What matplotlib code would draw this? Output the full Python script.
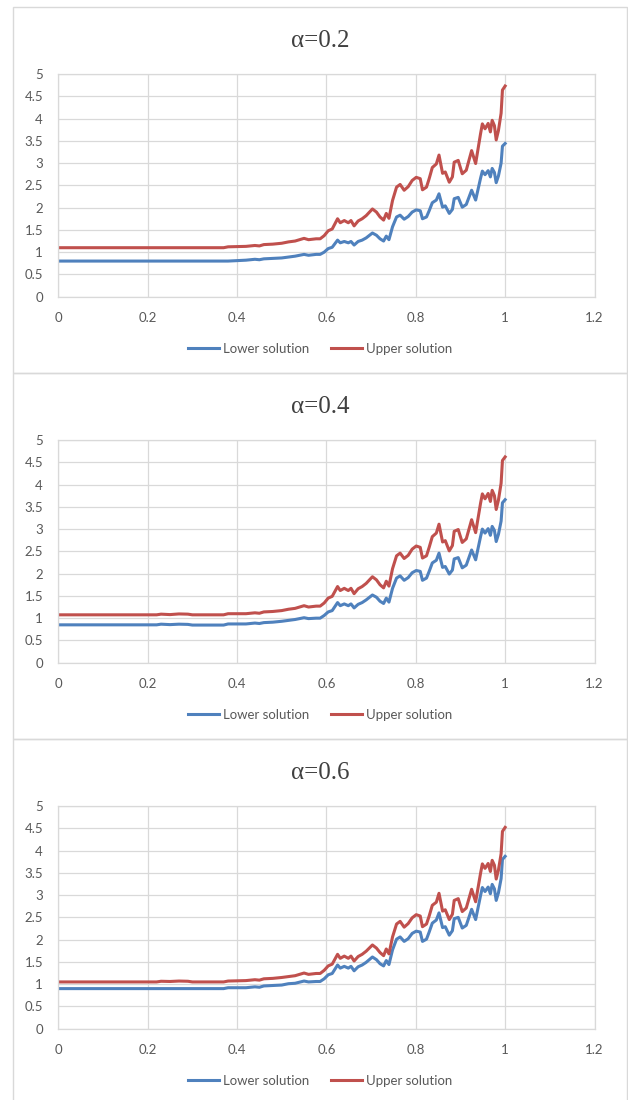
import matplotlib
matplotlib.use('Agg')
import matplotlib.pyplot as plt
from matplotlib.patches import Rectangle

# time grid (shared by all three panels)
t = [0, 0.22, 0.23, 0.25, 0.27, 0.29, 0.30, 0.37, 0.38, 0.42, 0.44, 0.45, 0.46, 0.48, 0.50,
     0.515, 0.53, 0.55, 0.56, 0.577, 0.586, 0.595, 0.604, 0.613, 0.625, 0.631, 0.64, 0.649,
     0.655, 0.662, 0.671, 0.68, 0.689, 0.703, 0.712, 0.72, 0.728, 0.734, 0.74, 0.748, 0.757,
     0.765, 0.774, 0.783, 0.792, 0.801, 0.81, 0.815, 0.824, 0.83, 0.837, 0.846, 0.852, 0.86,
     0.866, 0.875, 0.882, 0.886, 0.895, 0.904, 0.913, 0.925, 0.934, 0.945, 0.949, 0.955,
     0.962, 0.967, 0.971, 0.976, 0.98, 0.985, 0.991, 0.994, 1.0]

# alpha = 0.2
lower_02 = [0.80, 0.80, 0.80, 0.80, 0.80, 0.80, 0.80, 0.80, 0.80, 0.82, 0.84, 0.83, 0.85, 0.86, 0.87,
            0.89, 0.91, 0.95, 0.93, 0.95, 0.95, 1.00, 1.08, 1.11, 1.27, 1.21, 1.24, 1.21, 1.24, 1.16,
            1.24, 1.27, 1.32, 1.43, 1.38, 1.30, 1.25, 1.36, 1.28, 1.57, 1.79, 1.83, 1.74, 1.80, 1.90,
            1.95, 1.93, 1.75, 1.79, 1.93, 2.11, 2.17, 2.31, 2.01, 2.04, 1.87, 1.96, 2.20, 2.23, 2.01,
            2.07, 2.39, 2.17, 2.66, 2.82, 2.74, 2.83, 2.69, 2.88, 2.79, 2.56, 2.71, 3.00, 3.38, 3.44]
upper_02 = [1.10, 1.10, 1.10, 1.10, 1.10, 1.10, 1.10, 1.10, 1.12, 1.13, 1.15, 1.14, 1.17, 1.18, 1.20,
            1.23, 1.25, 1.31, 1.28, 1.30, 1.30, 1.37, 1.48, 1.52, 1.75, 1.66, 1.71, 1.66, 1.71, 1.59,
            1.70, 1.75, 1.82, 1.97, 1.90, 1.79, 1.72, 1.87, 1.76, 2.16, 2.46, 2.52, 2.39, 2.47, 2.61,
            2.68, 2.65, 2.40, 2.46, 2.65, 2.90, 2.98, 3.18, 2.77, 2.80, 2.57, 2.69, 3.02, 3.06, 2.76,
            2.84, 3.28, 2.99, 3.66, 3.88, 3.77, 3.89, 3.70, 3.96, 3.84, 3.52, 3.73, 4.12, 4.64, 4.73]

# alpha = 0.4
lower_04 = [0.85, 0.85, 0.865, 0.855, 0.865, 0.86, 0.845, 0.845, 0.87, 0.87, 0.89, 0.88, 0.90, 0.91, 0.93,
            0.95, 0.97, 1.01, 0.99, 1.00, 1.00, 1.06, 1.14, 1.17, 1.35, 1.28, 1.32, 1.28, 1.32, 1.23,
            1.31, 1.35, 1.41, 1.52, 1.47, 1.38, 1.33, 1.45, 1.36, 1.67, 1.90, 1.95, 1.85, 1.91, 2.02,
            2.07, 2.05, 1.85, 1.90, 2.05, 2.24, 2.30, 2.46, 2.14, 2.16, 1.99, 2.08, 2.33, 2.36, 2.13,
            2.19, 2.53, 2.31, 2.83, 3.00, 2.91, 3.01, 2.86, 3.06, 2.97, 2.72, 2.88, 3.18, 3.59, 3.66]
upper_04 = [1.075, 1.075, 1.09, 1.08, 1.095, 1.09, 1.075, 1.075, 1.10, 1.10, 1.12, 1.11, 1.14, 1.15, 1.17,
            1.20, 1.22, 1.28, 1.25, 1.27, 1.27, 1.34, 1.45, 1.49, 1.71, 1.62, 1.67, 1.62, 1.67, 1.55,
            1.66, 1.71, 1.78, 1.93, 1.86, 1.75, 1.68, 1.83, 1.72, 2.11, 2.40, 2.46, 2.34, 2.41, 2.55,
            2.62, 2.59, 2.35, 2.40, 2.59, 2.83, 2.91, 3.11, 2.71, 2.74, 2.51, 2.63, 2.95, 2.99, 2.70,
            2.78, 3.21, 2.92, 3.58, 3.79, 3.68, 3.80, 3.62, 3.87, 3.75, 3.44, 3.65, 4.03, 4.54, 4.62]

# alpha = 0.6
lower_06 = [0.90, 0.90, 0.90, 0.90, 0.90, 0.90, 0.90, 0.90, 0.92, 0.92, 0.94, 0.93, 0.96, 0.97, 0.98,
            1.01, 1.02, 1.07, 1.05, 1.06, 1.06, 1.12, 1.21, 1.24, 1.43, 1.36, 1.40, 1.36, 1.40, 1.30,
            1.39, 1.43, 1.49, 1.61, 1.55, 1.46, 1.41, 1.53, 1.44, 1.77, 2.01, 2.06, 1.96, 2.02, 2.14,
            2.19, 2.17, 1.96, 2.01, 2.17, 2.37, 2.44, 2.60, 2.27, 2.29, 2.10, 2.20, 2.47, 2.50, 2.26,
            2.32, 2.68, 2.45, 2.99, 3.17, 3.08, 3.18, 3.03, 3.24, 3.14, 2.88, 3.05, 3.37, 3.80, 3.87]
upper_06 = [1.05, 1.05, 1.065, 1.06, 1.07, 1.065, 1.05, 1.05, 1.07, 1.08, 1.10, 1.09, 1.12, 1.13, 1.15,
            1.17, 1.19, 1.25, 1.22, 1.24, 1.24, 1.31, 1.41, 1.45, 1.67, 1.58, 1.63, 1.58, 1.63, 1.52,
            1.62, 1.67, 1.74, 1.88, 1.81, 1.71, 1.64, 1.79, 1.68, 2.06, 2.35, 2.41, 2.28, 2.36, 2.49,
            2.56, 2.53, 2.29, 2.35, 2.53, 2.77, 2.84, 3.04, 2.64, 2.67, 2.45, 2.57, 2.88, 2.92, 2.63,
            2.71, 3.13, 2.85, 3.49, 3.70, 3.60, 3.71, 3.53, 3.78, 3.67, 3.36, 3.56, 3.93, 4.43, 4.52]

titles = ['α=0.2', 'α=0.4', 'α=0.6']
x_ticks = [0, 0.2, 0.4, 0.6, 0.8, 1.0, 1.2]
x_labels = ['0', '0.2', '0.4', '0.6', '0.8', '1', '1.2']
y_ticks = [0, 0.5, 1, 1.5, 2, 2.5, 3, 3.5, 4, 4.5, 5]
y_labels = ['0', '0.5', '1', '1.5', '2', '2.5', '3', '3.5', '4', '4.5', '5']

BLUE = '#4F81BD'
RED = '#C0504D'
GRID = '#D9D9D9'
TEXT = '#595959'

W, H = 628, 1100
PITCH = 366  # vertical distance between stacked panels, px

plt.rcParams['font.family'] = ['Lato', 'DejaVu Sans']


def draw_panel(fig, i, title, lower, upper):
    off = PITCH * i
    # panel frame
    fig.patches.append(Rectangle((13 / W, 1 - (373 + off) / H), 614 / W, 366 / H,
                                 transform=fig.transFigure, fill=False,
                                 edgecolor=GRID, lw=1.0))
    fig.text(320 / W, 1 - (47 + off) / H, title, ha='center', va='baseline',
             fontsize=18, color='#404040', family=['Liberation Serif', 'DejaVu Serif'])

    ax = fig.add_axes([58.3 / W, 1 - (296.7 + off) / H, 536.2 / W, 222.7 / H])
    ax.plot(t, lower, color=BLUE, lw=2.2, label='Lower solution')
    ax.plot(t, upper, color=RED, lw=2.2, label='Upper solution')
    ax.set_xlim(0, 1.2)
    ax.set_ylim(0, 5)
    ax.set_xticks(x_ticks, x_labels)
    ax.set_yticks(y_ticks, y_labels)
    ax.grid(color=GRID, lw=0.9)
    ax.set_axisbelow(True)
    for s in ax.spines.values():
        s.set_color(GRID)
        s.set_linewidth(0.9)
    ax.tick_params(axis='both', length=0, labelsize=9.5, labelcolor=TEXT)
    ax.tick_params(axis='y', pad=11)
    ax.tick_params(axis='x', pad=11)

    ax.legend(loc='center', bbox_to_anchor=(320 / W, 1 - (349 + off) / H),
              bbox_transform=fig.transFigure, ncol=2, frameon=False,
              fontsize=9.5, labelcolor=TEXT, handlelength=2.4,
              handletextpad=0.3, columnspacing=1.6)


fig = plt.figure(figsize=(W / 100, H / 100), dpi=100)
panels = [(lower_02, upper_02), (lower_04, upper_04), (lower_06, upper_06)]
for i, (lo, up) in enumerate(panels):
    draw_panel(fig, i, titles[i], lo, up)

fig.savefig('out.png', dpi=100, facecolor='white')
